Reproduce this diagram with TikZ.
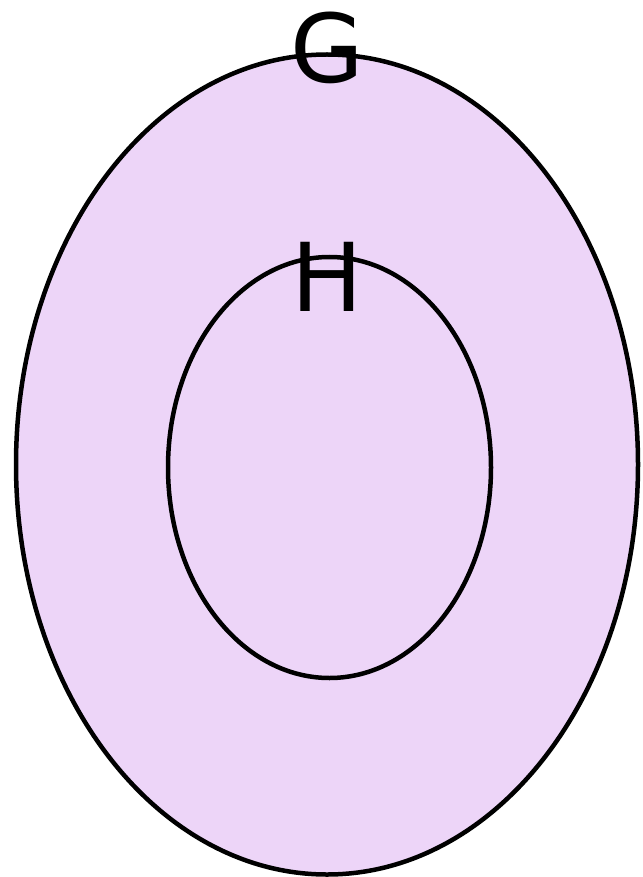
\documentclass[tikz,border=0pt]{standalone}
\usepackage{fontspec}
\setmainfont{DejaVu Sans}
\definecolor{setfill}{RGB}{237,213,248}
\begin{document}
\begin{tikzpicture}[x=1pt,y=-1pt,
  setline/.style={draw=black,line width=4.5pt},
  setlabel/.style={inner sep=0pt,font=\fontsize{95}{95}\selectfont}]
\useasboundingbox (0,0) rectangle (642,877);
\path[setline,fill=setfill] (327,464.5) ellipse [x radius=311,y radius=410];
\path[setline] (329.5,467.5) ellipse [x radius=161.5,y radius=210.5];
\node[setlabel,anchor=base] (G) at (327,83) {G};
\node[setlabel,anchor=base] (H) at (327.5,311) {H};
\end{tikzpicture}
\end{document}
